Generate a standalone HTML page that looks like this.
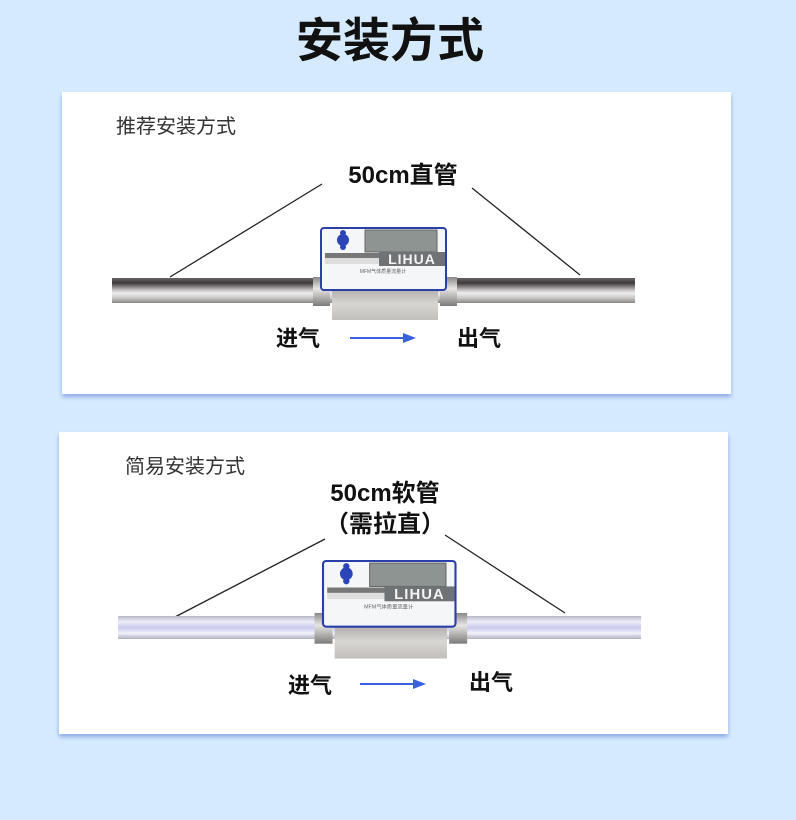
<!DOCTYPE html>
<html><head><meta charset="utf-8"><style>
body{margin:0;width:796px;height:820px;background:#d5eafc;overflow:hidden;font-family:"Liberation Sans","Noto Sans CJK SC",sans-serif}
</style></head><body>
<svg width="796" height="820" xmlns="http://www.w3.org/2000/svg" style="position:absolute;left:0;top:0">
<defs>
<linearGradient id="steel" x1="0" y1="0" x2="0" y2="1">
<stop offset="0" stop-color="#6a6566"/><stop offset="0.2" stop-color="#3e3a3b"/><stop offset="0.45" stop-color="#b8b2b2"/><stop offset="0.6" stop-color="#eeeeee"/><stop offset="0.8" stop-color="#c9c6c6"/><stop offset="1" stop-color="#8a8686"/>
</linearGradient>
<linearGradient id="soft" x1="0" y1="0" x2="0" y2="1">
<stop offset="0" stop-color="#b7b7c8"/><stop offset="0.25" stop-color="#eeeefa"/><stop offset="0.5" stop-color="#c9c9ee"/><stop offset="0.75" stop-color="#f2f2fb"/><stop offset="1" stop-color="#b0b0c0"/>
</linearGradient>
<linearGradient id="metal" x1="0" y1="0" x2="0" y2="1">
<stop offset="0" stop-color="#aeaca9"/><stop offset="0.5" stop-color="#d8d6d2"/><stop offset="1" stop-color="#c2bfbb"/>
</linearGradient>
<linearGradient id="fit" x1="0" y1="0" x2="0" y2="1">
<stop offset="0" stop-color="#8a8886"/><stop offset="0.4" stop-color="#e8e6e4"/><stop offset="1" stop-color="#7d7b79"/>
</linearGradient>
<filter id="sh" x="-5%" y="-5%" width="110%" height="115%"><feDropShadow dx="0" dy="3" stdDeviation="2" flood-color="#6f8fe0" flood-opacity="0.7"/></filter>
<g id="dev">
<rect x="-8" y="49" width="17" height="29" fill="url(#fit)"/>
<rect x="119" y="49" width="17" height="29" fill="url(#fit)"/>
<rect x="11" y="60" width="106" height="32" fill="url(#metal)"/>
<rect x="0" y="0" width="125" height="62" rx="3" fill="#f4f6f8" stroke="#2a3fa8" stroke-width="2"/>
<rect x="44" y="2" width="72" height="22" fill="#8e9492" stroke="#666" stroke-width="1"/>
<circle cx="22" cy="12" r="6" fill="#2b45b8"/><circle cx="22" cy="5" r="3" fill="#2b45b8"/><circle cx="22" cy="19" r="3" fill="#2b45b8"/>
<rect x="4" y="25" width="116" height="11" fill="#ddd"/>
<rect x="4" y="25" width="58" height="5" fill="#777"/>
<rect x="58" y="24" width="66" height="14" fill="#6f7375"/>
<text x="91" y="36" font-size="14" font-weight="bold" fill="#f4f4f4" text-anchor="middle" letter-spacing="1">LIHUA</text>
<text x="62" y="45" font-size="5" fill="#666" text-anchor="middle">MFM气体质量流量计</text>
</g>
</defs>
<text x="390" y="57" font-size="47" font-weight="bold" fill="#111" text-anchor="middle">安装方式</text>

<rect x="62" y="92" width="669" height="302" fill="#fff" filter="url(#sh)"/>
<text x="116" y="133" font-size="20" fill="#333">推荐安装方式</text>
<text x="403" y="183" font-size="24" font-weight="bold" fill="#111" text-anchor="middle">50cm直管</text>
<line x1="322" y1="184" x2="170" y2="277" stroke="#222" stroke-width="1.3"/>
<line x1="472" y1="188" x2="580" y2="275" stroke="#222" stroke-width="1.3"/>
<rect x="112" y="278" width="523" height="25" fill="url(#steel)"/>
<use href="#dev" transform="translate(321,228)"/>
<text x="298" y="346" font-size="22" font-weight="bold" fill="#111" text-anchor="middle">进气</text>
<line x1="350" y1="338" x2="405" y2="338" stroke="#3a5fe0" stroke-width="2"/>
<polygon points="403,333 416,338 403,343" fill="#3a5fe0"/>
<text x="479" y="346" font-size="22" font-weight="bold" fill="#111" text-anchor="middle">出气</text>

<rect x="59" y="432" width="669" height="302" fill="#fff" filter="url(#sh)"/>
<text x="125" y="473" font-size="20" fill="#333">简易安装方式</text>
<text x="385" y="501" font-size="24" font-weight="bold" fill="#111" text-anchor="middle">50cm软管</text>
<text x="385" y="532" font-size="24" font-weight="bold" fill="#111" text-anchor="middle">（需拉直）</text>
<line x1="325" y1="539" x2="175" y2="617" stroke="#222" stroke-width="1.3"/>
<line x1="445" y1="535" x2="565" y2="613" stroke="#222" stroke-width="1.3"/>
<rect x="118" y="616" width="523" height="23" fill="url(#soft)"/>
<use href="#dev" transform="translate(323,561) scale(1.06)"/>
<text x="310" y="693" font-size="22" font-weight="bold" fill="#111" text-anchor="middle">进气</text>
<line x1="360" y1="684" x2="415" y2="684" stroke="#3a5fe0" stroke-width="2"/>
<polygon points="413,679 426,684 413,689" fill="#3a5fe0"/>
<text x="491" y="690" font-size="22" font-weight="bold" fill="#111" text-anchor="middle">出气</text>
</svg>
</body></html>
